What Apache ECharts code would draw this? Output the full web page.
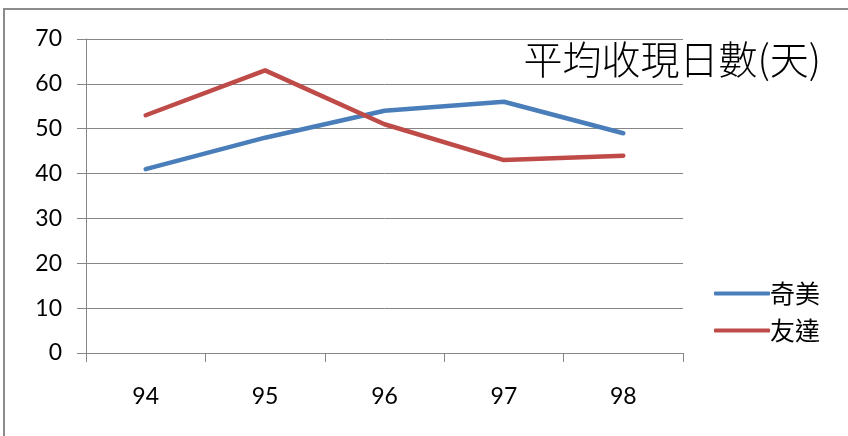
<!DOCTYPE html>
<html><head><meta charset="utf-8">
<script src="https://cdn.jsdelivr.net/npm/echarts@6/dist/echarts.min.js"></script>
<style>html,body{margin:0;padding:0;background:#fff}#c{width:848px;height:436px}</style>
</head><body><div id="c"></div>
<script>
const categories = ['94','95','96','97','98'];
const chimei = [41, 48, 54, 56, 49];
const auo = [53, 63, 51, 43, 44];
const seriesNames = ['奇美', '友達'];
const titleText = '平均收現日數(天)';

const chart = echarts.init(document.getElementById('c'));
chart.setOption({
  animation: false,
  backgroundColor: '#fff',
  graphic: [{
    type: 'rect', shape: {x: 4, y: 9, width: 900, height: 500},
    style: {fill: 'none', stroke: '#8c8c8c', lineWidth: 2}, z: -1
  }],
  title: {
    text: titleText, right: 22, top: 35,
    textStyle: {fontFamily: 'Noto Sans CJK TC', fontSize: 39, fontWeight: 300, color: '#000'}
  },
  legend: {
    orient: 'vertical', left: 709, top: 276, itemGap: 12,
    itemWidth: 56, itemHeight: 4, icon: 'roundRect',
    textStyle: {fontFamily: 'Noto Sans CJK TC', fontSize: 25, color: '#000', padding: [0,0,0,-5]},
    data: seriesNames
  },
  grid: {left: 86, right: 165, top: 39, bottom: 83},
  xAxis: {
    type: 'category', data: categories, boundaryGap: true,
    axisLine: {lineStyle: {color: '#868686', width: 1}},
    axisTick: {show: true, length: 9, lineStyle: {color: '#868686'}},
    axisLabel: {fontFamily: 'Lato', fontSize: 23, color: '#000', margin: 32}
  },
  yAxis: {
    type: 'value', min: 0, max: 70, interval: 10,
    axisLine: {show: true, lineStyle: {color: '#868686'}},
    axisTick: {show: true, length: 9, lineStyle: {color: '#868686'}},
    splitLine: {lineStyle: {color: '#868686', width: 1}},
    axisLabel: {fontFamily: 'Lato', fontSize: 23, color: '#000', margin: 24}
  },
  series: [
    {name: seriesNames[0], type: 'line', data: chimei, symbol: 'none',
     lineStyle: {color: '#4a7ebb', width: 4.5, cap: 'round', join: 'round'}, itemStyle: {color: '#4a7ebb'}},
    {name: seriesNames[1], type: 'line', data: auo, symbol: 'none',
     lineStyle: {color: '#be4b48', width: 4.5, cap: 'round', join: 'round'}, itemStyle: {color: '#be4b48'}}
  ]
});
</script></body></html>
